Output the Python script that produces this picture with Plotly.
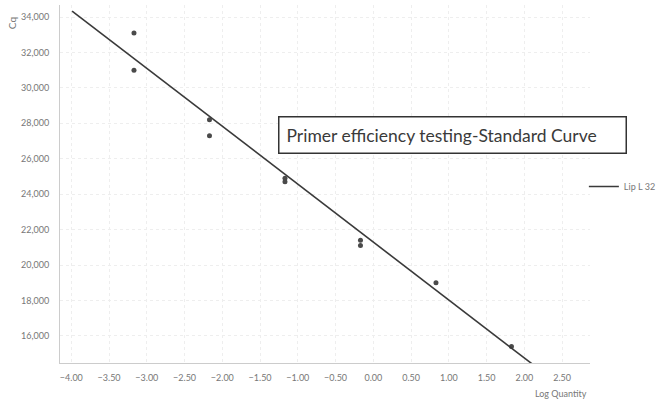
import plotly.graph_objects as go

# Data
log_quantity = [-3.17, -3.17, -2.17, -2.17, -1.17, -1.17, -0.17, -0.17, 0.83, 1.83]
cq_values = [33.1, 31.0, 28.2, 27.3, 24.9, 24.7, 21.4, 21.1, 19.0, 15.4]

trend_x = [-3.99, 2.10]
trend_y = [34.34, 14.43]

x_ticks = [-4.0, -3.5, -3.0, -2.5, -2.0, -1.5, -1.0, -0.5, 0.0, 0.5, 1.0, 1.5, 2.0, 2.5]
y_ticks = [16, 18, 20, 22, 24, 26, 28, 30, 32, 34]
y_ticktext = [f"{v},000" for v in y_ticks]

title_text = "Primer efficiency testing-Standard Curve"
legend_name = "Lip L 32"

fig = go.Figure()
fig.add_trace(go.Scatter(
    x=log_quantity, y=cq_values, mode="markers",
    marker=dict(size=5, color="#4a4a4a"),
    showlegend=False,
))
fig.add_trace(go.Scatter(
    x=trend_x, y=trend_y, mode="lines",
    line=dict(color="#3a3a3a", width=1.6),
    name=legend_name, showlegend=True,
))

fig.update_layout(
    width=659, height=401,
    margin=dict(l=60, r=69, t=5, b=38, autoexpand=False),
    paper_bgcolor="white", plot_bgcolor="white",
    font=dict(family="Lato, Liberation Sans, sans-serif", size=9, color="#777777"),
    legend=dict(x=0.886, y=0.535, xref="container", yref="container",
                xanchor="left", yanchor="middle",
                font=dict(size=9, color="#777777"), bgcolor="rgba(0,0,0,0)",
                itemwidth=30),
    annotations=[
        dict(text=title_text, xref="paper", yref="paper", x=0.74, y=0.637,
             xanchor="center", yanchor="middle",
             width=332, height=21, align="left",
             showarrow=False, font=dict(size=17.5, color="#3a3a3a",
                                        family="Lato, Liberation Sans, sans-serif"),
             bordercolor="#333333", borderwidth=1.5, borderpad=7, bgcolor="white"),
        dict(text="Cq", xref="paper", yref="paper", x=-0.09, y=0.95, textangle=-90,
             showarrow=False, font=dict(size=10, color="#777777"),
             xanchor="center", yanchor="middle"),
        dict(text="Log Quantity", xref="paper", yref="paper", x=0.945, y=-0.085,
             showarrow=False, font=dict(size=9, color="#777777"),
             xanchor="center", yanchor="middle"),
    ],
)

fig.update_xaxes(
    range=[-4.15, 2.87], tickvals=x_ticks, tickformat=".2f", automargin=False,
    showgrid=True, gridcolor="#eeeeee", griddash="dot", gridwidth=1,
    showline=True, linecolor="#cccccc", linewidth=1,
    zeroline=False, ticks="", ticklabelstandoff=6,
)
fig.update_yaxes(
    range=[14.47, 34.68], tickvals=y_ticks, ticktext=y_ticktext, automargin=False,
    showgrid=True, gridcolor="#eeeeee", griddash="dot", gridwidth=1,
    showline=True, linecolor="#cccccc", linewidth=1,
    zeroline=False, ticks="", ticklabelstandoff=8,
)

fig.write_html("out.html", config={"displayModeBar": False},
               post_script="document.body.style.margin='0';")
